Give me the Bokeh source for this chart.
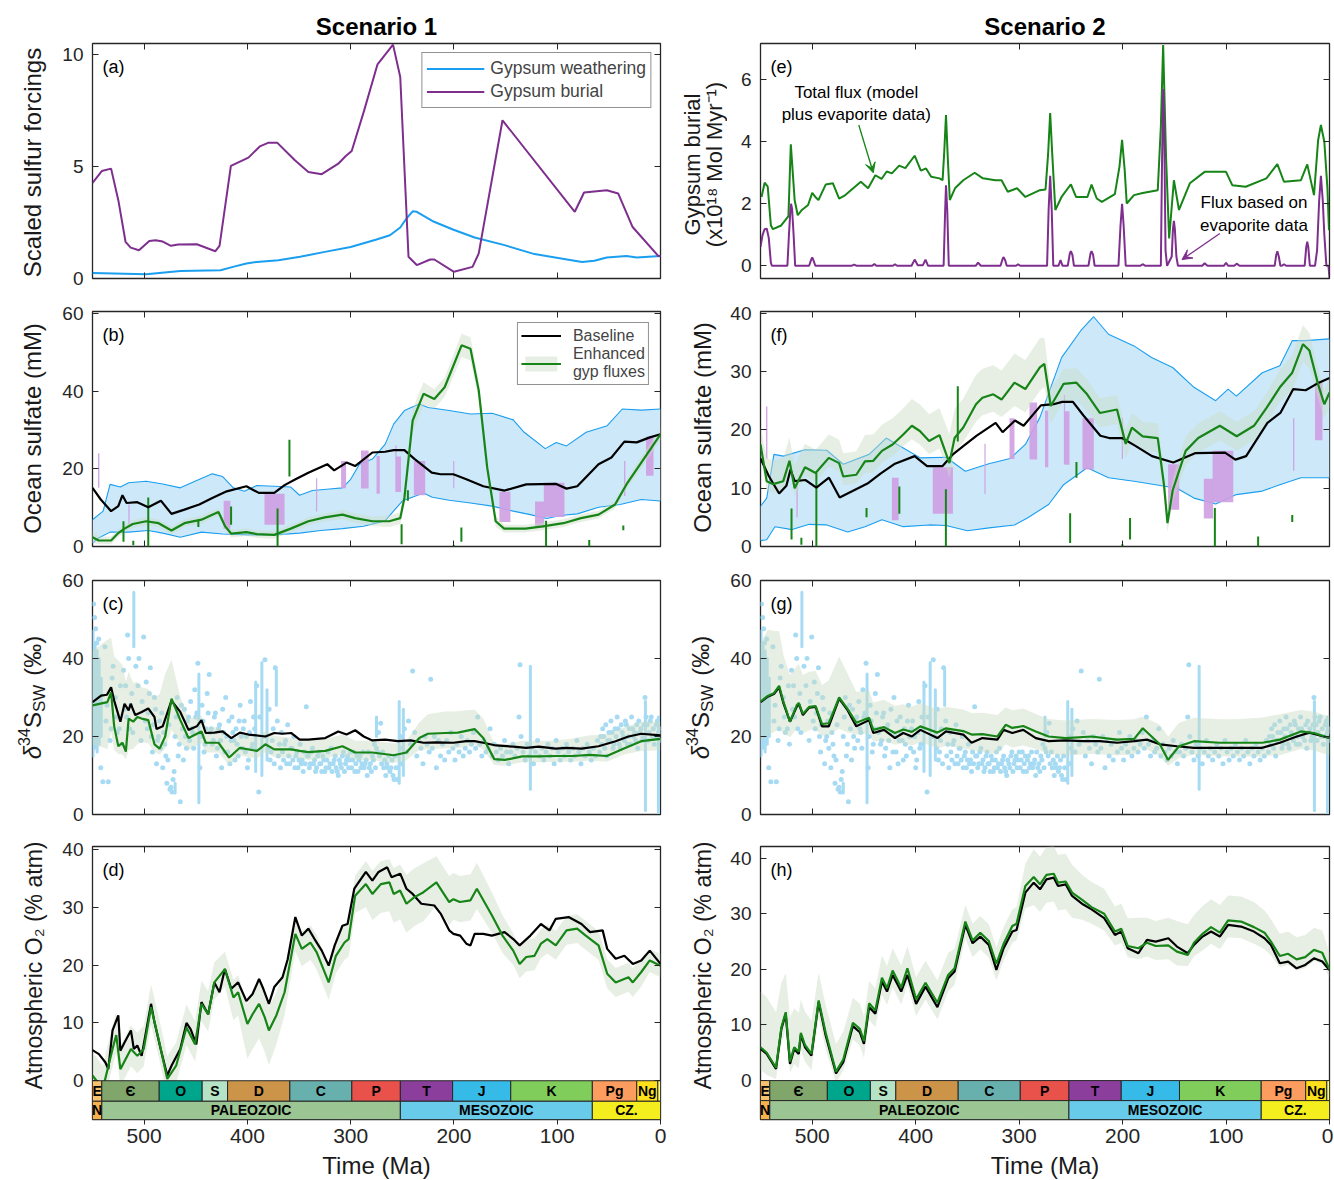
import math
from bokeh.plotting import figure
from bokeh.models import Range1d, LinearAxis, FixedTicker, Label, Legend, LegendItem, Arrow, VeeHead
from bokeh.layouts import column, row
from bokeh.embed import file_html
from bokeh.resources import INLINE
from bokeh.core.properties import value

FONT = "Liberation Sans"
AX = "#262626"
GREEN = "#168416"
PURPLE = "#7e2f8e"
BLUE = "#1a9ef0"
BAND_BLUE = "#cde9f9"
EVAP = "#cf9fe2"
GBAND = "#c9dcc3"
SCAT = "#a6dbf3"

# ---------------- (a) scaled forcings ----------------
a_t = [550,541,532,525,518,513,505,495,489,482,474,467,449,431,427,416,399,388,380,371,354,341,328,312,305,299,287,274,259,252,244,236,223,219,200,182,176,153,83,74,52,41,27,2,0]
a_burial = [4.27,4.8,4.91,3.5,1.64,1.38,1.26,1.68,1.71,1.65,1.46,1.52,1.53,1.22,1.46,5.03,5.4,5.9,6.06,6.06,5.28,4.76,4.66,5.13,5.46,5.7,7.5,9.57,10.45,9.0,0.97,0.6,0.85,0.85,0.3,0.52,1.12,7.07,2.98,3.84,3.94,3.8,2.3,1.0,1.0]
w_t = [550,498,465,426,414,401,391,370,349,325,300,275,262,252,246,240,236,221,201,180,151,122,102,76,64,52,33,23,0]
w_v = [0.25,0.19,0.34,0.37,0.52,0.67,0.74,0.82,0.97,1.19,1.41,1.74,1.93,2.28,2.68,3.0,2.98,2.57,2.19,1.83,1.49,1.09,0.94,0.74,0.79,0.94,1.01,0.94,1.0]

# ---------------- (e) gypsum burial fluxes ----------------
ev_t = [550,548,546,544,542,540,539,524,522.5,521,520.5,519.5,518,516.5,503,501,500,498.5,497,462,459.5,457,442,440,438,422,420,418,
        404,401,398,393,390.5,388,373,371.5,370.7,369.5,368,342,339.7,337,318,316,315,313.5,312,303,301,299,273,271.5,270,268.5,267,
        262,260,258,253,251,250,248.5,247,233,231,230,228.5,227,204,202,200.5,199,197,183,180.6,178,163,162,161,160.6,159.8,158.5,157,
        152.5,151.3,150.4,149.5,148,146.5,123,120.7,118,102,100,98,92,89.7,87,53,51.5,50.4,49,47.5,46,44,42,24,22.5,21.5,20.5,19,
        14,12,10,8.3,6.5,5,3,1,0]
ev_v = [0.61,1.0,1.18,1.2,0.9,0.1,0,0,1.0,1.85,2.0,1.85,1.0,0,0,0.2,0.27,0.15,0,0,0.04,0,0,0.06,0,0,0.05,0,
        0,0.2,0.02,0.02,0.2,0,0,1.8,2.6,1.8,0,0,0.1,0,0,0.22,0.28,0.18,0,0,0.05,0,0,1.8,2.9,1.8,0,
        0,0.18,0,0,0.4,0.47,0.35,0,0,0.4,0.47,0.35,0,0,1.3,2.0,1.3,0,0,0.05,0,0,3.0,5.4,5.7,4.5,0.5,0,
        0.3,1.2,1.45,1.2,0.3,0,0,0.08,0,0,0.1,0,0,0.07,0,0,0.35,0.47,0.3,0,0,0.05,0,0,0.6,0.78,0.6,0,
        0,0.5,2.1,2.9,2.1,1.0,0,0,-0.4]
tot_t = [549,546,543,540,538,530,526,523,520.7,517,514,510,504,500,497,494,487,480,474,468,453,446,439,433,428,423,416,410,401,395,
         390,385,377,374,372.5,370.7,369,367,362,354,343,335,323,317,311,302,294,280,274.5,272,270,268,265,259,250,245,234,230,225,220,
         207.5,203,200.5,198,196,189,180.6,166,163,160.8,158,155,150.4,145.5,135,120.7,100,94,81,61,50.4,44,27.6,21.5,15,11,8.3,5,2,0.5]
tot_v = [2.22,2.68,2.55,1.31,1.18,1.3,1.47,1.6,3.92,2.12,1.63,1.8,1.96,2.35,2.22,2.12,2.62,2.66,2.17,2.28,2.71,2.5,2.92,2.8,3.04,2.98,3.23,3.15,3.55,3.07,
         3.14,2.87,2.82,2.76,3.6,4.86,3.5,2.12,2.5,2.76,3.0,2.82,2.76,2.76,2.39,2.5,2.22,2.44,2.46,3.6,4.93,3.6,1.8,2.22,2.63,2.22,2.22,2.62,2.17,2.06,
         2.31,3.2,4.06,3.1,2.01,2.28,2.35,2.44,4.5,7.12,3.5,0.88,2.76,1.8,2.66,3.03,3.03,2.6,2.55,2.82,3.28,2.71,2.76,3.27,2.28,4.05,4.54,4.0,2.5,1.15]

# ---------------- (b)/(f) ocean sulfate ----------------
base_t = [550,542,532,525,521,517,506.6,496,483.8,473.5,461,446.6,434,420,401,389,374,364,353.4,341,322.7,316,304,295.7,279,266.7,258.4,248,238,221.5,
          213,200.6,188,171.6,151,130,101,91,80.6,60,47.5,35,23,10.3,0]
base_v = [15.1,12.1,9.1,10.4,13.2,11.2,11.4,10.1,11.8,8.4,9.5,10.8,12.5,14.2,15.5,13.8,13.8,15.8,17.3,19,21.2,19.6,21.6,20.7,24.2,24.4,24.8,24.8,22.5,19,
          18.6,18.6,17.3,15.5,14.4,16,16.1,14.9,15.5,21.2,22.9,27,26.8,28.1,28.9]
enh1_t = [550,544,532,525,519,511,498,486,473.5,461,444.5,434,428,421.6,415.6,401,391,374,358,341,325,308,295.7,279,262.6,252,248,240,229.5,219,
          209,192.6,184,176,167.8,159.6,151.4,130.7,114,94,77,60,44,32,19.6,0]
enh1_v = [2.4,1.55,1.55,3.45,4.6,5.8,6.5,6.0,4.1,6.0,6.9,8.2,8.9,5.2,3.3,3.7,3.2,3.0,4.6,6.5,7.5,8.2,7.3,6.5,6.5,7.3,12.5,32.4,39.3,38,
          41,51.8,50.9,40.2,20.3,6.5,4.6,4.6,5.2,6.0,7.3,8.2,10.8,16.4,21.2,28.9]
enh1_hw = [1.5,1,1,1,1,1,1,1,1,1,1,1,1,1,1,1,1,1,1,1,1,1.2,1.2,1.2,1.5,1.5,2,3,3,2.5,
           2.5,3,3,2.5,2,1.5,1,1,1,1,1,1,1,1.2,1.5,1.5]
enh2_t = [550,544,538,528,522,517,507,496.7,484,474,470,457.4,449,441,432.6,422.3,412,403.7,396,387,377,367.4,362.4,354,341.7,335.5,325,317,304.5,294,
          280,275.6,269.4,257,244.6,234.3,222,205.4,197,191,180.6,166,160,156.6,151.6,139,126.9,106,89.7,73,60.7,48,36,25.6,19.4,11,5,0]
enh2_v = [17.5,11.2,10.7,11.2,14.7,10.0,13.6,12.6,15.2,14.3,12.0,12.3,14.6,14.7,16.4,17.5,19.2,20.7,19.8,18.1,19.1,14.3,18.6,20.4,24.4,25.5,26.1,25.2,28.1,27,
          30.7,31.3,24.1,27.9,28.1,26.1,22.9,23.5,17.6,20.4,18.9,18.6,10.6,4.0,9.6,16.4,18.6,20.7,18.9,20.7,23.8,27.3,29.8,34.7,33.6,27.8,24.4,26.4]
enh2_up = [3,4,4,4,4,4,4,4,4,4,4,4,4.5,4.5,4.5,4.5,4.5,4.6,4.6,4.6,4.6,5,5,5,5,5,5,5,5,5,
           5,4.5,3,2.5,2.5,2.5,2.5,2.5,2.5,2.5,2.5,2.5,2,2,2,2.5,2.5,2.5,2.5,2.5,2.5,3,3,3.3,3,2.5,2.5,2.5]
enh2_lo = [2,1.5,1.5,1.5,1.5,1.5,1.5,1.5,1.5,1.5,1.5,1.5,2,2,2,2,2,2.3,2.3,2.3,2.3,2.5,2.5,2.5,3,3,3,3,4,4,
           4,4,3,3,3,3,2.5,2.5,2.5,2.5,2.5,2.5,2,1.5,2,2.5,2.5,2.5,2.5,2.5,2.5,2.5,3,3,3,2.5,2.5,2.5]
rng1_up_t = [550,539.7,533,523,515,498,482,465,450.8,434,424,413.6,403,391,374,358,349.5,337,320.5,308,300,291.5,279,266.7,258.4,248,233.6,225,204.5,184,
             163,142.6,132,111.6,101,91,72,51.6,37,18.6,0]
rng1_up_v = [6.9,9.1,16,15.3,16.4,16.8,16.1,15.1,16.8,18.7,18.0,15.1,14.2,15.7,15.5,15.3,13.2,14.4,14.8,15.1,17.3,21.2,22.5,26.3,31.5,35,36.7,35.8,35,34.1,
             34.3,32.6,29.4,25.2,26.8,25.9,29.4,31.1,35.4,35.1,35.4]
rng1_lo_t = [550,544,533,515,496,482,465,444.5,424,399,374,349.5,329,308,287.4,266.7,250,229.5,221,204.5,184,163,142.6,126,110,97,80.6,60,39,18.6,0]
rng1_lo_v = [0.86,2.2,3.7,3.7,4.1,3.45,2.4,3.7,3.2,3.0,3.0,3.45,4.1,4.6,5.2,6.6,11.7,13.8,12.7,11.9,11.2,10.4,9.1,8.2,7.2,8.0,8.4,10.1,10.8,12.1,11.7]
rng2_up_t = [550,544,537,528,507,486,470,445,428.5,412,395.5,370.7,352,329.3,308.7,294,280,259,240.5,228,213.6,189,172,151.6,131,110,98,90,65,48,36,23.5,0]
rng2_up_v = [6.9,8.3,15.8,15.5,16.6,16.5,14.1,15.8,18.6,16.9,15.2,15.3,12.9,14.2,15.1,17.5,22.1,32.4,37,39.4,36.4,34.4,32.4,30.7,27.3,25,27,25.8,29.8,31,35.3,35.3,35.6]
rng2_lo_t = [550,544,536,519.4,503,486,465.7,449,432.6,412,387,370.7,350,329,304.5,292,271.5,257,234.3,213.6,189,168,147.5,131,110,90,65,48,27.7,0]
rng2_lo_v = [1.0,1.15,3.4,2.9,3.8,3.7,2.5,3.4,4.6,3.4,3.7,3.6,2.7,3.2,3.7,4.9,7.2,10.6,13.5,11.8,11.2,10.6,10.0,8.3,7.3,8.9,9.5,10.6,11.8,11.8]
evap_old = [544.7,515.3,423,383.5,333.6,309.3,290,275,256.8,256,238.8,200.8,156,121.5,113,35.3,14]
evap_young = [543.3,514,416.5,364,332.4,304.5,282.6,271.8,255.6,251.3,227.8,199.6,145.3,112.5,93,34,6.8]
evap_lo = [15.1,5,4.5,5.6,9,15,14.9,13.6,14.1,14,13.2,15,6.3,4.8,7.6,13,18.2]
evap_hi = [24,10.8,11.8,13.6,17.6,22,24.7,23.3,26,23.2,22,22,14.1,11.6,16.4,22,28.3]
halite_t = [520,510.5,496,447.5,415.8,370.8,359.3,250.7,244.6,192.8,200.2,110.8,69,36]
halite_lo = [1.2,0.3,0,5,5.6,0,18,0.6,11.8,1.2,0,0,0,4.2]
halite_hi = [6.5,1.5,12.6,6.6,10.3,9.8,27.5,5.7,14.5,4.9,0.4,6.6,1.7,5.4]

# ---------------- (c)/(g) d34S ----------------
c_base_t = [550,541.7,536,532,529,523,519,515,513,508.6,502.4,496,490,488,482,473.5,465,457,449,444.5,440.4,432,424,415.6,407.3,399,382.6,374,366,357.7,
            349.4,341,324.6,312,304,295.6,287.4,279,266.7,254.3,241.9,229.5,217,200.6,188,180,171.6,159.2,142.6,130,118,101.5,91,76.5,60,43.5,31,18.6,0]
c_base_v = [28.8,30.5,30.7,32.6,29.2,23.8,28.4,26.7,28.4,25.5,26.3,27.2,25,21.9,22.6,29.2,26.3,21.7,22.6,24.2,20.9,21,21.3,19.6,21,20.5,20,20.9,20.7,20.9,
            19.2,19.2,19.6,21.3,20.5,21.6,20,19,19.2,18.8,19,18.4,18.5,18.4,18.8,18.8,18.4,17.7,17.4,17.1,17.4,16.9,17.1,16.9,17.5,18.8,20,20.7,20.3]
c_enh_t = [550,535.6,532,529,525,521,517.7,515,510.6,506.6,502.4,496,490,485,479.6,473.5,465,457,444.5,440.4,428,417.7,407.3,390.7,382.6,374,357.7,349.4,341,324.6,
           308,295.6,279,258.4,246,233.6,225.3,208.7,196.3,180,171.6,161,150.7,134,118,101.5,85,68.5,52,35.4,18.6,0]
c_enh_v = [28,28.8,31.3,22.6,17.5,18.4,16.1,24.6,23.8,25,24.6,24.2,18,16.9,20,29.7,24.2,19.6,21.3,18.4,18.4,14.6,17.1,16.3,18,16.7,16.7,16.3,16,16.3,
           17.5,15.9,15.9,15.2,15.9,19.6,20.7,20.9,21,21.9,19.6,14.2,14,14.9,14.9,15,15,15.3,15,16.9,18.8,19.4]
c_enh_up = [14,16,14,18,22,20,18,12,10,9,8,8,12,14,16,10,6,5,4,4,4,4,3.5,3.5,3.5,3.5,3,3,3,3,
            3,3,3,3,3,4,5,5.5,5.5,5,5,4,4,4,4,4,4.5,5,5.5,5.5,5,4.5]
c_enh_lo = [10,12,10,6,2,3,2,8,7,7,6,6,2,1.5,3,8,6,3,3,2.5,2.5,2,2,2,2,2,2,2,2,2,
            2,2,2,2,2,3,4,4,4,4,3,1.5,1.5,1.5,1.5,1.5,1.5,1.5,1.5,1.5,2.5,3]
g_base_t = [550,543,537,532,527.7,521.5,515,513,509,503,496.7,490.5,484,474,465.7,457.4,445,441,430.6,420,412,403.7,395.5,379,370.7,354,346,335.5,321,315,
            306.6,296,283.9,271.5,255,238.4,222,205.4,188.8,176.4,164,147.5,131,114.5,98,81.4,65,48,31.6,19.4,0]
g_base_v = [28.8,30.2,30.9,32.6,28.4,23.8,27.6,28.4,25.5,27.4,27.6,22.6,22.6,29.7,26.7,22.6,24.2,20.9,21.7,19.6,20.9,20,21.7,19.6,21.3,20.5,18.4,19.6,19.2,21.7,
            20.9,21.7,19.6,18.8,19,18.8,18.8,18.4,18.8,19.2,18,17.5,17.1,17.1,17.1,17.1,17.1,18.4,20,21,19.6]
g_enh_t = [550,543,537,532,527.7,521.5,515,513,509,503,496.7,490.5,484,474,465.7,457.4,445,441,430.6,420,412,403.7,395.5,379,370.7,354,346,335.5,321,313,
           306.6,296,283.9,271.5,255,230,205.4,188.8,180.5,164,156,145.5,131,106,89.7,65,48,27.7,15,0]
g_enh_v = [29,30.4,31.1,33,28.8,23.8,28,28.6,25.8,27.6,27.8,23.2,23.4,30,27,23.5,24.8,21.7,22.4,20.9,21.8,21.2,22.6,21,22.1,21.4,20.5,20.6,20,23,
           22.2,22.7,21.3,20,19.6,20,19.2,19.4,22.1,18,14,17.5,18.8,18.4,18.4,18.4,19.2,21.3,20.9,19.6]
g_enh_up = [15,17,16,14,12,12,10,10,10,9,9,10,11,10.5,9,8,7,7,7,7,6.5,6.5,6,6,5.5,5.5,5.5,5.5,5.5,4.5,
            4.5,4.5,4.5,4.5,4.5,4.5,5,5,3,5,6,6,6,6,6,6.5,6.5,5.5,5.5,5.5]
g_enh_lo = [10,10,10,11,8,4,6,6,5,6,6,3,3,8,6,3,4,3,3.5,3,3.5,3.5,4,4,4.5,4.5,4,4.5,4.5,5,
            5,5,4.5,4.5,4.5,4.5,4,4,5,3,1.5,3,3.5,3.5,3.5,3.5,4,4.5,4.5,4.5]
d34s_points = [
    (549,54),(548,50.5),(547,47.6),(546,44),(544,45),(542,12),(540,8.4),(538,43),(537,24),(536,28),(534.7,8.4),(533,19),(532,22),(531,35),(530,38),
    (528,30),(527,25),(526,21),(524,22),(523,33),(522,18),(520,37),(519,27),(518,33),(517,25),(516,46),(515,40),(514,22),(513,28),(512,31),(511,21),
    (508,38),(506,33),(505,40),(503,19),(502,29),(500.5,45.5),(499,24),(498,34),(497,22),
    (496,26),(495,31),(494,37.6),(493,20),(492,16),(491,23),(490,30),(489,27),(488,13),(487,19),(486,20),(485,24),(484,17),(483,26),(482,12),(481,21),
    (480,18),(479,15),(478,8),(477,14),(476,23),(475,6.5),(474,7),(473,5.8),(472,9),(471,11),(470,20),(469,25),(468,30),(467,15),(466,18),(465,3.3),
    (464,28),(463,22),(462,14),(461,27),(460,20),(459,17),(458,24),(457,25),(456,19),(455,29),(454,22),(453,21),(452,17),(451,32),(450,25),(449,26),
    (448,38.8),(446,12),(445,20),(444,28),(443,24),(442,16),(441,18),(440,22),
    (439,31),(438,26),(437,35.9),(436,21),(435,22),(434,18),(433,19),(432,25),(431,26),(430,15),(429,17),(428,22),(427,23),(426,19),(425,12),(424,27),
    (423,21),(422,16),(421,30),(420,20),(419,16),(418,24),(417,13),(416,19),(415,25),(414,21),(413,19),(412,14),(411,22),(410,18),(409,15),(408,24),
    (407,28),(406,20),(405,17),(404,22),(403,24),(402,16),(401,20),(400,12),(399,14),(398,21),(397,29),(396,17),(395,18),(394,25),(393,22),(391,33),
    (389,5.8),(388,25),(384,20),(383,39.7),(380,17),
    (379,27),(378,14),(377,16),(376,19),(375,22),(374,13),(373,37.6),(371,24),(370,15),(369,18),(368,12),(367,21),(366,16),(365,14),(364,18),(363,19),
    (362,13),(361,23),(360,15),(359,13),(358,17),(357,17),(356,14),(355,20),(354,12),(353,15),(352,16),(351,12),(350,14),(349,18),(348,13),(347,14),
    (346,11),(345,16),(344,13),(343,27.6),(342,15),(341,15),(340,12),(339,13),(338,16),(337,17),(336,13),(335,14),(334,11),(333,12),(332,15),(331,16),
    (330,13),(329,13),(328,11),(327,15),(326,14),(325,11),(324,12),(323,14),(322,16),(321,12),(320,13),(319,17),(318,11),(317,13),(316,14),(315,15),
    (314,12),(313,11),(312,10),(311,14),(310,13),(309,12),(308,15),(307,16),(306,11),(305,13),(304,14),(303,15),(302,12),(301,14),(300,16),
    (299,12),(298,14),(297,16),(296,11),(295,13),(294,15),(293,11),(292,14),(291,15),(290,12),(289,13),(288,16),(287,12),(286,13),(285,14),(284,10),
    (283,16),(282,12),(281,13),(280,11),(279,15),(278,14),(277,18),(276,12),(275,17),(274,16),(273,21),(272,15),(271,23.4),(270,13),(269,16),(268,12),
    (267,14),(266,10),(265,13),(264,12),(263,15),(262,11),(261,12),(260,14),(259,10),(258,9),(257,15),(256,12),(255,9),(252,20),(251,13),(250,17),
    (248,22),(246,16),(244,24),(242,18),(240,36.8),(238,21),(236,15),(234,19),(232,17),(230,13),(228,20),(226,18),(224,16),(222.5,34.7),(221,17),(219,20),
    (217,12),(215,19),(213,15),(211,18),(209,14),(207,19),(205,16),(203,21),(201,17),(199,14),(197,18),(195,16),(193,20),(191,15),(189,17),(187,19),
    (185,16),(183,18),(181,21),(179,17),(177,25),(175,18),(173,15),(171,19),(169,16),(167,17),(165,22),(163,15),(161,18),(159,16),(157,14),(155,17),
    (153,15),(151,19),
    (149,16),(147,13),(145,16),(143,18),(141,15),(139,17),(137,25),(136,38.4),(135,20),(133,16),(131,14),(129,18),(127,15),(125,17),(123,13),(121,16),
    (119,19),(117,15),(115,17),(113,14),(111,16),(109,18),(107,15),(105,17),(103,13),(101,19),(99,16),(97,14),(95,17),(93,15),(91,18),(89,16),(87,14),
    (85,17),(83,15),(81,19),(79,16),(77,13),(75,17),(73,15),(71,18),(69,16),(67,14),(65,17),(63,15),(61,19),
    (59,16),(58,20),(57,18),(56,22),(55,20),(54,17),(53,23),(52,15),(51,19),(50,21),(49,19),(48,24),(47,21),(46,17),(45,18),(44,22),(43,20),(42,25),
    (41,22),(40,18),(39,17),(38,23),(37,21),(36,20),(35,19),(34,24),(33,23),(32,18),(31,20),(30,22),(29,18),(28,25),(27,22),(26,20),(25,21),(24,19),
    (23,23),(22,17),(21,24),(20,21),(19,22),(18,19),(17,20),(16,23),(15,30),(14,25),(13,23),(12,19),(11,21),(10,24),(9,25),(8,20),(7,22),(6,18),
    (5,20),(4,23),(3,24),(2,21),(1,22),(0.5,19)]
d34s_col_t = [549.5,547.5,545.5,543.5,541.5,510,470,447,392,386,381,372,275,253,249,126,14.6,2]
d34s_col_lo = [15,17,16,18,20,43,5.5,3,11,10,14,28,20,8,10,6.5,1,0]
d34s_col_hi = [47,44,42,40,35,57,8,36,34,39,32,37,25,29,27,38,29,25]

# ---------------- (d)/(h) O2 ----------------
d_base_t = [550,543.8,537.6,534.7,530.6,525,523,519,512.8,510,506.6,502.4,493.3,490,484,477.6,473.5,465,459,454.9,449.5,444.5,438,432,427,421.8,415.6,409,401,395,
            388.7,384.6,379.2,374,366,361,353.6,347.3,341,335,328,321.3,315.5,308,303,296.5,285.3,279,273,264.6,260.5,252,246,240,231.6,219,212.9,204.6,200.5,194,
            188,184,180,171.6,163.3,151,142.6,136.4,126,115.8,107.5,101.4,89,76.5,68.2,56,51.6,43.4,35,26.8,18.6,10.4,0]
d_base_v = [5.3,4.6,3.2,2.0,8.7,11.3,5.2,6.6,8.7,5.5,6.1,4.3,13.3,10.1,5.5,0.9,2.6,5.5,10,8.9,6.3,13.6,11.5,17,15.3,19.3,15.9,17,13.8,15,
            17.6,15.9,13.3,16.2,17.9,21,28.3,25.1,26.3,24.5,22.5,19.9,23.4,26.8,27.1,33.2,36.1,34.6,36.1,36.9,35.2,35.8,33.2,32.3,30.6,30.3,28.9,26,25.4,25.1,
            23.7,23.4,25.4,25.4,25.1,25.7,24.5,23.4,25.1,27.1,26,28,28.3,27.1,25.7,26,22.8,21.1,21.6,20.2,20.8,22.5,20.2]
d_enh_t = [550,540,530.6,527,523,512.8,506.6,500.4,493.3,486,477.6,469,459,450.7,444.5,438,432,421.8,413.5,409,400,395,388.7,383.3,379.2,372,364,353.6,347.3,339,
           332.9,321.3,314.3,306,302,295.7,285.3,279,270.8,262.5,258.4,252.2,246,238.6,229.5,217,204.6,200.5,194.3,184,177.8,163.3,153,142.6,136.4,130,122,115.8,109.6,101.4,
           91,80.7,72.4,60,51.6,43.4,31,26.8,18.6,10.4,0]
d_enh_v = [0.9,-1.4,5.5,7.9,2.0,5.5,4.3,5.5,12.7,7.2,0.3,2.6,9.2,6.3,13.3,11.5,17,19.3,14.4,15.3,9.8,11.5,13.3,11,8.7,11.3,15.3,25.4,22.8,23.9,
           22.2,17,21.6,23.9,24.5,32,34,32.3,34,34.3,32.3,32.9,30.6,31.7,32.6,34.3,30.9,31.4,30.9,31.2,33.2,28.6,25.1,22.5,20.2,21.4,21.6,23.7,24.5,23.4,
           26,26.3,25.1,23.4,18.5,17,17.9,17,18.8,20.8,19.9]
d_enh_up = [4,4,4,4,4,4,4,4,4,4,4,4,4,4,4,4,3.5,3,3,3,3.5,4,4,4,4,4,4,3,3,3,
            3,3,3,3,3,3.5,4,4,4,4,4.5,4.5,5,5,5,4.5,4.5,4.5,4.5,4.5,4.5,4,3.5,3,3,3,3,2.5,2.5,2.5,
            2.5,2.5,2.5,2.5,2.5,2.5,2.5,2.5,2.5,2,2]
d_enh_lo = [3,3,3,3,3,3,3,3,3,3,3,3,3,3,3,3,3,3,4,4,6,6,6,6,6,5,4,3,3,3,
            3,3,3,3,3,3,4,4.5,5,5,5,5,5,5,5,4,4,3.5,3.5,3.5,3.5,3,3,2.5,2.5,2.5,2.5,2.5,2.5,2.5,
            2.5,2.5,2.5,2.5,2.5,2.5,2.5,2.5,2.5,2,2]
h_t = [550,544,535,529.8,525.6,521.5,517.4,513,511,507,500.8,493.8,487,477,470,460.7,454,450,445,439,432.6,427.7,422.3,414,408,399.6,390.5,379,368.6,362.4,
       352,345,337.6,329.3,322,315,306.6,302.5,294,285.9,279.8,273.6,266.5,262.4,255,248.8,238.4,230,217.8,207.4,201.2,195,184.7,176.4,168,155.8,147.5,137,131,122.7,
       114.5,106,98,85.5,73,62.8,56.6,48,40,31.8,23.5,15,7,0]
h_base_v = [5.7,4.8,2.1,9.3,12,3.0,5.7,4.8,8.2,6,4.5,14.1,8.1,1.3,3.3,9.8,8.7,6.6,13.2,12,17.8,16,19,16,19,13.8,16.9,13.2,18.4,19.6,
            28,24.7,25.9,24.4,19.9,23.8,26.8,27.1,33.8,35.6,34.4,36.2,36.5,35,35.3,33.2,31.7,30.8,29.2,26.2,26.8,23.8,22.9,25.3,25,25.6,24.1,22.9,24.4,25.9,
            26.8,25.9,28,27.7,26.8,25.6,24.4,21.1,21.4,20.2,20.8,22,21.4,19.9]
h_enh_v = [6.0,5.0,2.3,9.6,12.3,3.4,6.0,5.2,8.6,6.4,4.8,14.4,8.6,1.6,3.8,10.4,9.3,7.1,13.9,12.6,18.5,16.6,19.8,16.7,20.2,14.6,17.6,14.0,19.0,20.2,
           28.6,25.2,26.6,25.1,21.0,24.6,27.8,28.2,35.0,36.6,35.3,37.0,37.2,35.6,35.8,33.8,32.4,31.2,30.0,26.8,27.3,24.2,23.8,24.8,24.2,24.3,23.2,22.6,24.8,26.4,
           27.6,26.6,28.8,28.6,27.6,26.6,25.0,22.4,22.8,21.8,22.2,23.5,23.0,20.0]
h_enh_up = [10,10,10,8,7,8,7,7,6,6,6,5,5,5,5,4.5,4.5,4.5,4,4,4,4,4,4,4,4,4,4,4,3.5,
            3,3,3,3,3,3,3,3,4,5,5,5,5,5,5,5,4.5,4.5,4.5,4.5,4.5,5,5.5,4.5,4.5,5,5.5,5.5,5,5,
            5,5,4.5,4.5,4.5,4,4,4,4,4,4,4,4,3]
h_enh_lo = [4,4,2,3,3,2,3,3,3,3,3,3,3,2,2,3,3,3,3,3,3,3,3,3,3,3,3,3,3,3,
            3,3,3,3,3,3,3,3,4,5,5,5,5,5,5,4.5,3.5,3,3,2.5,2.5,2,2,2.5,2.5,2.5,2.5,2,2.5,3,
            3,3,3,3,3,3,2.5,2,2,2,2,2,2,1.5]

# ---------------- geological time scale ----------------
period_names = ["E", "Є", "O", "S", "D", "C", "P", "T", "J", "K", "Pg", "Ng", ""]
period_start = [550, 541, 485.4, 443.8, 419.2, 358.9, 298.9, 251.9, 201.3, 145, 66, 23, 2.6]
period_end = [541, 485.4, 443.8, 419.2, 358.9, 298.9, 251.9, 201.3, 145, 66, 23, 2.6, 0]
period_colors = ["#f8c16c", "#80a66c", "#00a68c", "#b4e3c6", "#cc9448", "#68b0ae", "#e8524a",
                 "#8b3e9c", "#36bbe8", "#80cd5c", "#fc9c5f", "#ffe01a", "#f9f97f"]
era_names = ["N", "PALEOZOIC", "MESOZOIC", "CZ."]
era_start = [550, 541, 251.9, 66]
era_end = [541, 251.9, 66, 0]
era_colors = ["#f7b24e", "#9bc593", "#68cbea", "#f4ee1e"]

x_ticks = [500, 400, 300, 200, 100, 0]

# page geometry (Bokeh's page has no body margin)
LEFT_LAB_W, LEFT_FIG_W, LEFT_L, LEFT_R = 58, 622, 34, 20      # left frame 92..660
RIGHT_LAB_W, RIGHT_FIG_W, RIGHT_L, RIGHT_R = 47, 606, 33, 4   # right frame 760..1329


def style_axis(ax, tick_in=6, tick_out=0, labels=True, size="19px"):
    ax.major_tick_in = tick_in
    ax.major_tick_out = tick_out
    ax.minor_tick_line_color = None
    ax.axis_line_color = None
    ax.major_tick_line_color = AX
    ax.major_tick_line_width = 1
    ax.major_label_text_font = FONT
    if labels:
        ax.major_label_text_color = AX
        ax.major_label_text_font_size = size
        ax.major_label_standoff = 9
    else:
        ax.major_label_text_color = None
        ax.major_label_text_font_size = "1px"
        ax.major_label_standoff = 0


def make_fig(col, yr, yticks, top, frame_h, bottom, xlabels=False):
    if col == 0:
        width, L, R = LEFT_FIG_W, LEFT_L, LEFT_R
    else:
        width, L, R = RIGHT_FIG_W, RIGHT_L, RIGHT_R
    p = figure(width=width, height=top + frame_h + bottom, x_range=Range1d(550, 0), y_range=Range1d(*yr),
               output_backend="svg", toolbar_location=None,
               min_border_left=L, min_border_right=R, min_border_top=top, min_border_bottom=bottom)
    p.xaxis.ticker = FixedTicker(ticks=x_ticks)
    p.yaxis.ticker = FixedTicker(ticks=yticks)
    style_axis(p.yaxis[0])
    if xlabels:
        style_axis(p.xaxis[0], tick_in=0, tick_out=5, labels=True, size="21px")
        p.xaxis[0].major_label_standoff = 4
    else:
        style_axis(p.xaxis[0], labels=False)
    at = LinearAxis(ticker=FixedTicker(ticks=x_ticks))
    style_axis(at, labels=False)
    p.add_layout(at, "above")
    ar = LinearAxis(ticker=FixedTicker(ticks=yticks))
    style_axis(ar, labels=False)
    p.add_layout(ar, "right")
    p.xgrid.visible = False
    p.ygrid.visible = False
    p.outline_line_color = AX
    p.outline_line_width = 1.3
    p.outline_line_alpha = 1
    return p


def text_fig(width, height, items):
    """A bare canvas (pixel coordinates) holding texts that sit outside the plot frames."""
    f = figure(width=width, height=height, x_range=Range1d(0, width), y_range=Range1d(0, height),
               output_backend="svg", toolbar_location=None, x_axis_type=None, y_axis_type=None,
               min_border_left=0, min_border_right=0, min_border_top=0, min_border_bottom=0)
    f.grid.visible = False
    f.outline_line_color = None
    for it in items:
        f.text(x=[it["x"]], y=[it["y"]], text=[it["text"]], angle=it.get("angle", 0),
               text_align=it.get("align", "center"), text_baseline="middle",
               text_font=value(FONT), text_font_size=value(it.get("size", "24px")),
               text_font_style=it.get("style", "normal"), text_color=it.get("color", "#1a1a1a"))
    return f


def vlabel(x, y, text, size="24px"):
    return dict(x=x, y=y, text=text, angle=math.pi / 2, size=size)


def delta_items(x, yc):
    parts = [("δ", 24, "italic", 0, 0.556), ("34", 16, "normal", -9, 1.112), ("S", 24, "normal", 0, 0.667),
             ("SW", 17, "normal", 7, 1.611), ("(‰)", 24, "normal", 0, 1.666)]
    gap = 9
    total = sum(s * w for _, s, _, _, w in parts) + gap
    y = yc - total / 2
    items = []
    for txt, s, st, dx, w in parts:
        if txt == "(‰)":
            y += gap
        items.append(dict(x=x + dx, y=y, text=txt, angle=math.pi / 2, align="left", size=f"{s}px", style=st))
        y += s * w
    return items


def panel_letter(p, letter, ytop):
    p.add_layout(Label(x=550, y=ytop, x_offset=10, y_offset=-23, text=letter, text_align="left",
                       text_baseline="middle", text_font=FONT, text_font_size="18px", text_color="black"))


def band(p, t, v, up, lo):
    return p.varea(x=t, y1=[a - b for a, b in zip(v, lo)], y2=[a + b for a, b in zip(v, up)],
                   fill_color=GBAND, fill_alpha=0.45)


def sulfate_panel(p, up_t, up_v, lo_t, lo_v, e_t, e_v, e_up, e_lo):
    p.patch(up_t + lo_t[::-1], up_v + lo_v[::-1], fill_color=BAND_BLUE, line_color=None)
    p.line(up_t, up_v, line_color=BLUE, line_width=1.1)
    p.line(lo_t, lo_v, line_color=BLUE, line_width=1.1)
    p.quad(left=evap_old, right=evap_young, bottom=evap_lo, top=evap_hi, fill_color=EVAP, fill_alpha=0.9, line_color=None)
    gb = band(p, e_t, e_v, e_up, e_lo)
    p.segment(x0=halite_t, y0=halite_lo, x1=halite_t, y1=halite_hi, line_color=GREEN, line_width=2)
    bl = p.line(base_t, base_v, line_color="black", line_width=2.2)
    gl = p.line(e_t, e_v, line_color=GREEN, line_width=2.2)
    return bl, gb, gl


def d34s_panel(p, b_t, b_v, e_t, e_v, e_up, e_lo):
    p.scatter([q[0] for q in d34s_points], [q[1] for q in d34s_points], size=5, fill_color=SCAT, line_color=None)
    p.segment(x0=d34s_col_t, y0=d34s_col_lo, x1=d34s_col_t, y1=d34s_col_hi, line_color=SCAT, line_width=3, line_cap="round")
    band(p, e_t, e_v, e_up, e_lo)
    p.line(b_t, b_v, line_color="black", line_width=2.2)
    p.line(e_t, e_v, line_color=GREEN, line_width=2.2)


def timescale(p, top, mid, bot):
    p.quad(left=period_start, right=period_end, top=top, bottom=mid, fill_color=period_colors, line_color=AX, line_width=1)
    p.quad(left=era_start, right=era_end, top=mid, bottom=bot, fill_color=era_colors, line_color=AX, line_width=1)
    p.text(x=[(a + b) / 2 for a, b in zip(period_start, period_end)], y=[(top + mid) / 2] * len(period_names),
           text=period_names, text_font=value(FONT), text_font_size=value("14px"), text_font_style="bold",
           text_align="center", text_baseline="middle", text_color="black")
    p.text(x=[(a + b) / 2 for a, b in zip(era_start, era_end)], y=[(mid + bot) / 2] * len(era_names),
           text=era_names, text_font=value(FONT), text_font_size=value("14px"), text_font_style="bold",
           text_align="center", text_baseline="middle", text_color="black")


TOTAL_W = LEFT_LAB_W + LEFT_FIG_W + RIGHT_LAB_W + RIGHT_FIG_W
LEFT_CX = LEFT_LAB_W + LEFT_L + 284          # centre of left frame
RIGHT_CX = LEFT_LAB_W + LEFT_FIG_W + RIGHT_LAB_W + RIGHT_L + 284.5

# ===== titles =====
title_row = text_fig(TOTAL_W, 41, [dict(x=LEFT_CX, y=15, text="Scenario 1", size="24px", style="bold", color="black"),
                                   dict(x=RIGHT_CX, y=15, text="Scenario 2", size="24px", style="bold", color="black")])

# ===== (a) =====
ya = (0, 10.5)
pa = make_fig(0, ya, [0, 5, 10], 2, 235, 17)
rw = pa.line(w_t, w_v, line_color=BLUE, line_width=2)
rb = pa.line(a_t, a_burial, line_color=PURPLE, line_width=2)
leg_a = Legend(items=[LegendItem(label="Gypsum weathering", renderers=[rw]), LegendItem(label="Gypsum burial", renderers=[rb])],
               location="top_right", margin=9, padding=4, spacing=0, glyph_width=58, glyph_height=23, label_height=23,
               label_standoff=6, label_text_font=FONT, label_text_font_size="17.5px", border_line_color=AX, border_line_width=1.2)
pa.add_layout(leg_a)
panel_letter(pa, "(a)", ya[1])
lab_a = text_fig(LEFT_LAB_W, 254, [vlabel(32, 133, "Scaled sulfur forcings")])

# ===== (e) =====
ye = (-0.41, 7.17)
pe = make_fig(1, ye, [0, 2, 4, 6], 2, 235, 17)
pe.line(tot_t, tot_v, line_color=GREEN, line_width=2)
pe.line(ev_t, ev_v, line_color=PURPLE, line_width=2)
for txt, yy in [("Total flux (model", 5.6), ("plus evaporite data)", 4.88)]:
    pe.add_layout(Label(x=457.4, y=yy, text=txt, text_align="center", text_baseline="middle", text_font=FONT,
                        text_font_size="17px", text_color="black"))
for txt, yy in [("Flux based on", 2.04), ("evaporite data", 1.31)]:
    pe.add_layout(Label(x=73, y=yy, text=txt, text_align="center", text_baseline="middle", text_font=FONT,
                        text_font_size="17px", text_color="black"))
pe.add_layout(Arrow(end=VeeHead(size=10, fill_color=GREEN, line_color=GREEN), x_start=455, y_start=4.54, x_end=441, y_end=3.0,
                    line_color=GREEN, line_width=1.3))
pe.add_layout(Arrow(end=VeeHead(size=10, fill_color=PURPLE, line_color=PURPLE), x_start=106, y_start=1.04, x_end=142.6, y_end=0.2,
                    line_color=PURPLE, line_width=1.3))
panel_letter(pe, "(e)", ye[1])
lab_e = text_fig(RIGHT_LAB_W, 254, [vlabel(12, 131, "Gypsum burial", "22px"), vlabel(34, 131, "(x10¹⁸ Mol Myr⁻¹)", "22px")])

# ===== (b) =====
yb = (0, 60.5)
pb = make_fig(0, yb, [0, 20, 40, 60], 16, 235, 17)
bl, gb, gl = sulfate_panel(pb, rng1_up_t, rng1_up_v, rng1_lo_t, rng1_lo_v, enh1_t, enh1_v, enh1_hw, enh1_hw)
leg_b = Legend(items=[LegendItem(label="Baseline", renderers=[bl]), LegendItem(label="Enhanced\ngyp fluxes", renderers=[gb, gl])],
               location="top_right", margin=11, padding=3, spacing=0, glyph_width=40, glyph_height=19, label_height=19,
               label_standoff=12, label_text_font=FONT, label_text_font_size="16px", label_text_line_height=1.22,
               border_line_color=AX, border_line_width=1.2)
pb.add_layout(leg_b)
panel_letter(pb, "(b)", yb[1])
lab_b = text_fig(LEFT_LAB_W, 268, [vlabel(32, 135, "Ocean sulfate (mM)")])

# ===== (f) =====
yf = (0, 40.3)
pf = make_fig(1, yf, [0, 10, 20, 30, 40], 16, 235, 17)
sulfate_panel(pf, rng2_up_t, rng2_up_v, rng2_lo_t, rng2_lo_v, enh2_t, enh2_v, enh2_up, enh2_lo)
panel_letter(pf, "(f)", yf[1])
lab_f = text_fig(RIGHT_LAB_W, 268, [vlabel(22, 136, "Ocean sulfate (mM)")])

# ===== (c) =====
yc = (0, 60)
pc = make_fig(0, yc, [0, 20, 40, 60], 17, 234, 16)
d34s_panel(pc, c_base_t, c_base_v, c_enh_t, c_enh_v, c_enh_up, c_enh_lo)
panel_letter(pc, "(c)", yc[1])
lab_c = text_fig(LEFT_LAB_W, 267, delta_items(32, 133))

# ===== (g) =====
yg = (0, 60)
pg = make_fig(1, yg, [0, 20, 40, 60], 17, 234, 16)
d34s_panel(pg, g_base_t, g_base_v, g_enh_t, g_enh_v, g_enh_up, g_enh_lo)
panel_letter(pg, "(g)", yg[1])
lab_g = text_fig(RIGHT_LAB_W, 267, delta_items(20, 133))

# ===== (d) =====
yd = (-6.7, 40.5)
pd = make_fig(0, yd, [0, 10, 20, 30, 40], 16, 273, 32, xlabels=True)
band(pd, d_enh_t, d_enh_v, d_enh_up, d_enh_lo)
pd.line(d_base_t, d_base_v, line_color="black", line_width=2.2)
pd.line(d_enh_t, d_enh_v, line_color=GREEN, line_width=2.2)
timescale(pd, 0, -3.55, yd[0])
panel_letter(pd, "(d)", yd[1])
lab_d = text_fig(LEFT_LAB_W, 321, [vlabel(33, 186, "Atmospheric O₂ (% atm)", "23px")])

# ===== (h) =====
yh = (-7.0, 42.1)
ph = make_fig(1, yh, [0, 10, 20, 30, 40], 16, 273, 32, xlabels=True)
band(ph, h_t, h_enh_v, h_enh_up, h_enh_lo)
ph.line(h_t, h_base_v, line_color="black", line_width=2.2)
ph.line(h_t, h_enh_v, line_color=GREEN, line_width=2.2)
timescale(ph, 0, -3.6, yh[0])
panel_letter(ph, "(h)", yh[1])
lab_h = text_fig(RIGHT_LAB_W, 321, [vlabel(22, 186, "Atmospheric O₂ (% atm)", "23px")])

time_row = text_fig(TOTAL_W, 28, [dict(x=LEFT_CX, y=14, text="Time (Ma)", size="24px"),
                                  dict(x=RIGHT_CX, y=14, text="Time (Ma)", size="24px")])

# label canvases and plots sit in separate columns, so their frames are not aligned with each other
left_labels = column(lab_a, lab_b, lab_c, lab_d)
left_plots = column(pa, pb, pc, pd)
right_labels = column(lab_e, lab_f, lab_g, lab_h)
right_plots = column(pe, pf, pg, ph)
layout = column(title_row, row(left_labels, left_plots, right_labels, right_plots), time_row)
open("out.html", "w").write(file_html(layout, INLINE))
